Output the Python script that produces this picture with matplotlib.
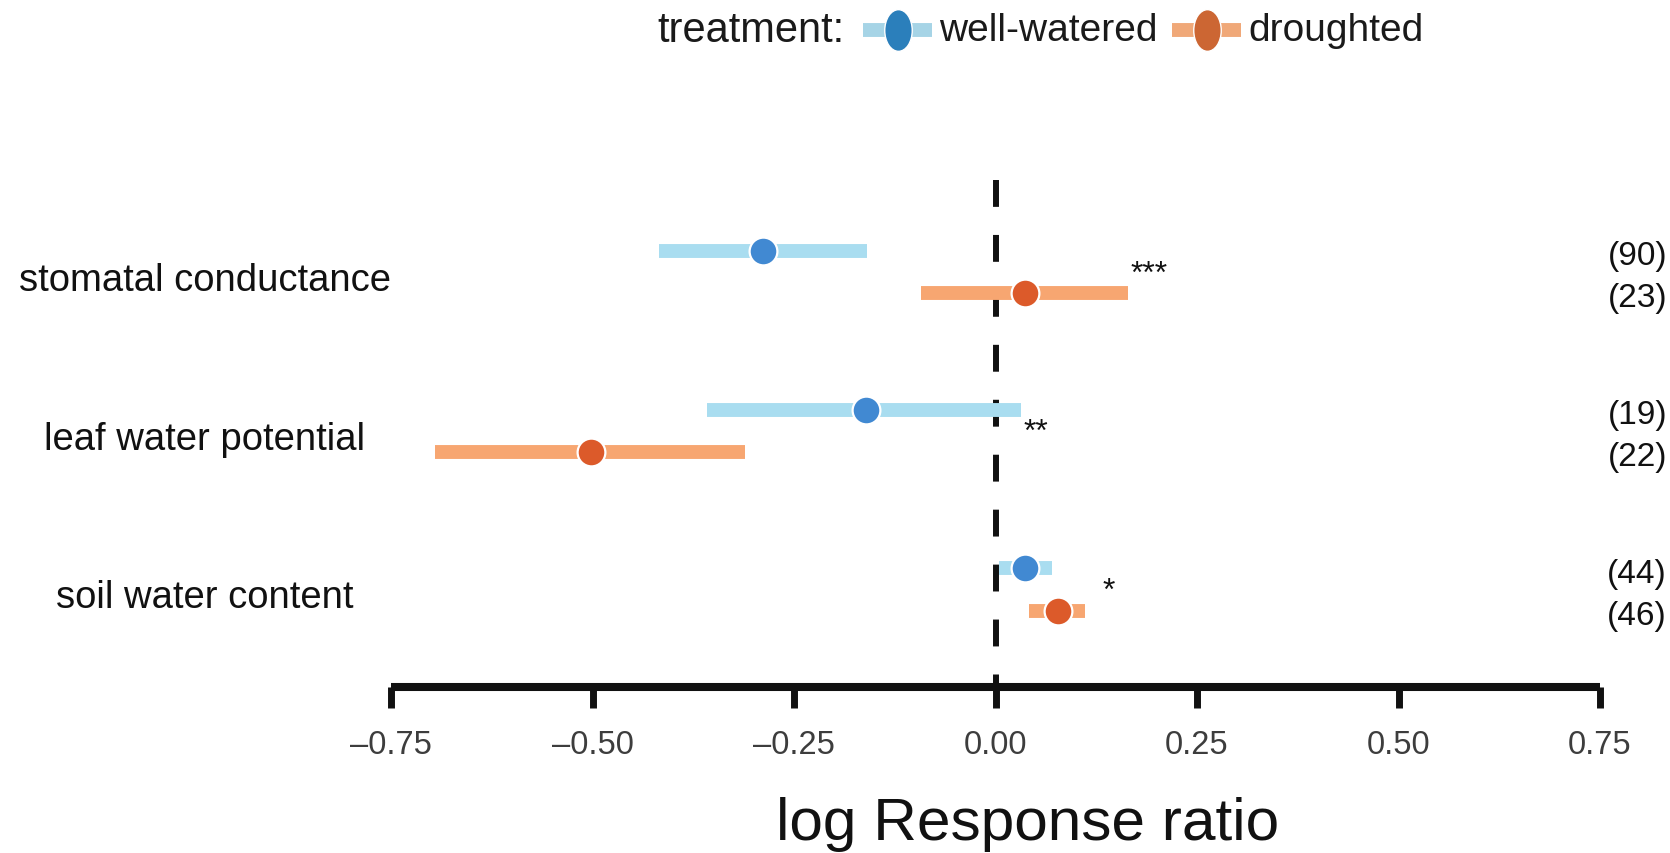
import matplotlib.pyplot as plt
from matplotlib.lines import Line2D
from matplotlib.markers import MarkerStyle
from matplotlib.path import Path
from matplotlib.transforms import Affine2D, blended_transform_factory

# Data
categories = ["stomatal conductance", "leaf water potential", "soil water content"]
ww_mean = [-0.289, -0.161, 0.036]
ww_lo = [-0.418, -0.358, 0.004]
ww_hi = [-0.160, 0.032, 0.070]
dr_mean = [0.036, -0.502, 0.077]
dr_lo = [-0.093, -0.695, 0.042]
dr_hi = [0.164, -0.311, 0.111]
ww_n = [90, 19, 44]
dr_n = [23, 22, 46]
sig_labels = ["***", "**", "*"]
sig_x = [0.19, 0.05, 0.14]
xticks = [-0.75, -0.50, -0.25, 0.00, 0.25, 0.50, 0.75]

# Colours
ww_bar, ww_dot = "#a9ddf0", "#4189d2"
dr_bar, dr_dot = "#f7a671", "#dc5a2a"

plt.rcParams["font.family"] = ["Liberation Sans", "DejaVu Sans"]

W, H = 1670, 854
fig = plt.figure(figsize=(W / 100, H / 100), dpi=100)
fig.patch.set_facecolor("white")

ax = fig.add_axes([391 / W, (H - 688) / H, 1209 / W, (688 - 160) / H])
ax.set_xlim(-0.75, 0.75)
ybot = 1 - (688 - 590.5) / 158.5
ytop = 3 + (273 - 160) / 158.5
ax.set_ylim(ybot, ytop)

off = 0.133
ypos = [3, 2, 1]

# dashed zero line
ax.plot([0, 0], [3 + (273 - 181) / 158.5, ybot], color="#111111", lw=4.3,
        dashes=(4.5, 4.7), zorder=1, dash_capstyle="butt")

for i, y in enumerate(ypos):
    ax.plot([ww_lo[i], ww_hi[i]], [y + off, y + off], color=ww_bar, lw=10,
            solid_capstyle="butt", zorder=2)
    ax.plot(ww_mean[i], y + off, "o", ms=20, mfc=ww_dot, mec="white", mew=1.6, zorder=3)
    ax.plot([dr_lo[i], dr_hi[i]], [y - off, y - off], color=dr_bar, lw=10,
            solid_capstyle="butt", zorder=2)
    ax.plot(dr_mean[i], y - off, "o", ms=20, mfc=dr_dot, mec="white", mew=1.6, zorder=3)
    ax.text(sig_x[i], y - 0.06, sig_labels[i], ha="center", va="baseline",
            fontsize=23, color="#111111")

# row labels and sample sizes
tr = blended_transform_factory(fig.transFigure, ax.transData)
for i, y in enumerate(ypos):
    ax.text(205 / W, y - 0.05, categories[i], transform=tr, ha="center", va="center",
            fontsize=27.5, color="#111111")
    ax.text(1667 / W, y + off - 0.03, "(%d)" % ww_n[i], transform=tr, ha="right",
            va="center", fontsize=24, color="#111111")
    ax.text(1667 / W, y - off - 0.03, "(%d)" % dr_n[i], transform=tr, ha="right",
            va="center", fontsize=24, color="#111111")

for s in ["top", "right", "left"]:
    ax.spines[s].set_visible(False)
ax.spines["bottom"].set_linewidth(5.8)
ax.spines["bottom"].set_capstyle("butt")
ax.spines["bottom"].set_color("#111111")
ax.set_yticks([])
ax.set_xticks(xticks)
ax.set_xticklabels(["\u2013%.2f" % abs(v) if v < 0 else "%.2f" % v for v in xticks],
                   fontsize=23.5, color="#3d3d3d")
ax.tick_params(axis="x", length=15, width=5, color="#111111", pad=15)
ax.patch.set_alpha(0)

fig.text(1028 / W, 1 - 825 / H, "log Response ratio", ha="center", va="center",
         fontsize=43.5, color="#111111")

# legend
ly = 1 - 31 / H
fig.text(657 / W, ly, "treatment:", ha="left", va="center", fontsize=30,
         color="#1a1a1a")
oval = MarkerStyle(Path.unit_circle().transformed(Affine2D().scale(0.66, 1)))
for x0, bar, dot, lab in [(863, "#a6d4e6", "#2b7fbb", "well-watered"),
                          (1172, "#f0a878", "#cc6633", "droughted")]:
    fig.add_artist(Line2D([x0 / W, (x0 + 69) / W], [ly, ly], transform=fig.transFigure,
                          color=bar, lw=10, solid_capstyle="butt"))
    fig.add_artist(Line2D([(x0 + 34.5) / W], [ly], transform=fig.transFigure,
                          marker=oval, ms=30, mfc=dot, mec="white", mew=1, lw=0))
    fig.text((x0 + 76) / W, ly, lab, ha="left", va="center", fontsize=28,
             color="#1a1a1a")

fig.savefig("out.png", dpi=100)
